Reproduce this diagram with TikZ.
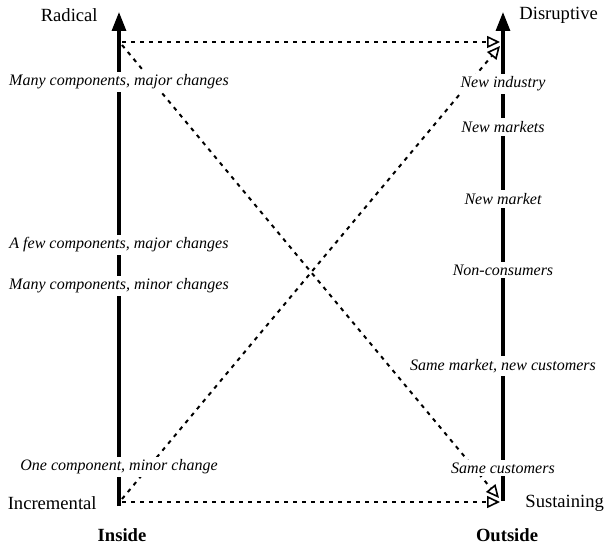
\documentclass[tikz,border=0pt]{standalone}
\usepackage{fontspec}
\setmainfont{Liberation Serif}
\usetikzlibrary{arrows.meta}

\begin{document}
\begin{tikzpicture}[x=0.5pt,y=-0.5pt,
  axis/.style={line width=1.6pt,-{Triangle[length=9.5pt,width=7pt]}},
  move/.style={line width=1pt,dash pattern=on 2pt off 2.5pt,
    -{Triangle[open,length=6.5pt,width=6pt,line width=0.8pt]}},
  lvl/.style={fill=white,inner sep=1.5pt,font=\fontsize{8}{9}\selectfont\itshape},
  pole/.style={inner sep=0pt,font=\fontsize{9.3}{11}\selectfont},
  side/.style={font=\fontsize{9.3}{11}\selectfont\bfseries}]
  \useasboundingbox (0,0) rectangle (604,549);

  % axes
  \coordinate (LB) at (119,506);
  \coordinate (LT) at (119,12);
  \coordinate (RB) at (503,501);
  \coordinate (RT) at (503,12);
  \draw[axis] (LB) -- (LT);
  \draw[axis] (RB) -- (RT);

  % moves between the two sides
  \coordinate (ITop) at (122,42);
  \coordinate (IBot) at (122,502);
  \coordinate (OTop) at (500,42);
  \coordinate (OBot) at (500,502);
  \coordinate (ITopD) at (122,45);
  \coordinate (IBotD) at (122,499);
  \coordinate (OTopD) at (500,46);
  \coordinate (OBotD) at (499,498);
  \draw[move] (ITop) -- (OTop);
  \draw[move] (IBot) -- (OBot);
  \draw[move] (ITopD) -- (OBotD);
  \draw[move] (IBotD) -- (OTopD);

  % inside levels
  \node[lvl] (many major) at (119,82) {Many components, major changes};
  \node[lvl] (few major) at (119,245) {A few components, major changes};
  \node[lvl] (many minor) at (119,286) {Many components, minor changes};
  \node[lvl] (one minor) at (119,467) {One component, minor change};

  % outside levels
  \node[lvl] (industry) at (503,84) {New industry};
  \node[lvl] (markets) at (503,127) {New markets};
  \node[lvl] (market) at (503,199) {New market};
  \node[lvl] (noncons) at (503,270) {Non-consumers};
  \node[lvl] (newcust) at (503,366) {Same market, new customers};
  \node[lvl] (samecust) at (503,468) {Same customers};

  % poles
  \node[pole,anchor=east] (radical) at (98,15) {Radical};
  \node[pole,anchor=west] (disrupt) at (519,15) {Disruptive};
  \node[pole,anchor=east] (increm) at (97,503) {Incremental};
  \node[pole,anchor=west] (sustain) at (525,503) {Sustaining};
  \node[side] (inside) at (122,535) {Inside};
  \node[side] (outside) at (507,535) {Outside};
\end{tikzpicture}
\end{document}
